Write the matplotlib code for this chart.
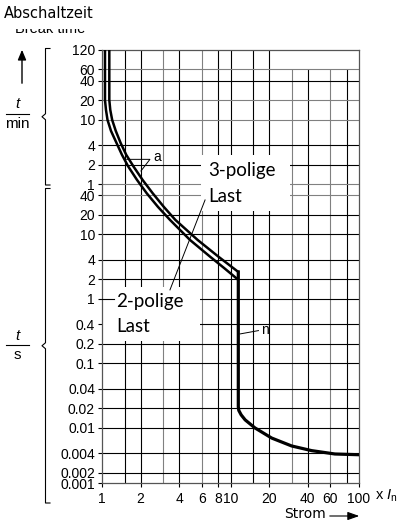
import matplotlib.pyplot as plt
from matplotlib.lines import Line2D
from matplotlib.patches import Rectangle, FancyArrowPatch
from matplotlib.ticker import NullLocator

plt.rcParams['font.family'] = ['Liberation Sans', 'DejaVu Sans']
plt.rcParams['mathtext.fontset'] = 'custom'
plt.rcParams['mathtext.rm'] = 'Liberation Sans'
plt.rcParams['mathtext.it'] = 'Liberation Sans:italic'

NARROW = ['DejaVu Sans Condensed', 'DejaVu Sans']
LABEL = ['Lato', 'DejaVu Sans']

# Ausloesekennlinie (Strom in x In, Zeit in s)
strom_2pol = [1.055, 1.055, 1.074, 1.104, 1.175, 1.301, 1.431, 1.602, 1.873,
              2.228, 2.728, 3.38, 4.84, 6.93, 8.90, 11.5]
zeit_2pol = [7200, 1208, 846, 592, 400, 257, 170, 112, 69.5,
             43.2, 26.5, 16.7, 8.15, 4.49, 3.0, 1.96]

strom_3pol = [1.140, 1.140, 1.160, 1.200, 1.280, 1.400, 1.545, 1.760, 2.07,
              2.48, 3.03, 3.72, 5.55, 8.05, 11.5]
zeit_3pol = [7200, 1208, 846, 592, 400, 257, 170, 112, 69.5,
             43.2, 26.5, 16.7, 8.15, 4.49, 2.60]

# unverzoegerter Bereich
strom_n = [11.5, 11.5, 11.6, 12.1, 13.0, 15.5, 20.9, 29.9, 42.8, 65.0, 100]
zeit_n = [2.60, 0.021, 0.0185, 0.0158, 0.0132, 0.0099, 0.0069, 0.0052,
          0.0044, 0.0039, 0.0038]

zeit_unten = 0.00137
zeit_oben = 7200

y_ticks = [7200, 3600, 2400, 1200, 600, 240, 120, 60,
           40, 20, 10, 4, 2, 1, 0.4, 0.2, 0.1, 0.04, 0.02, 0.01,
           0.004, 0.002, zeit_unten]
y_labels = ['120', '60', '40', '20', '10', '4', '2', '1',
            '40', '20', '10', '4', '2', '1', '0.4', '0.2', '0.1', '0.04',
            '0.02', '0.01', '0.004', '0.002', '0.001']
x_ticks = [1, 2, 4, 6, 8, 10, 20, 40, 60, 100]
x_labels = ['1', '2', '4', '6', '8', '10', '20', '40', '60', '100']

gitter_x = [1.5, 2, 3, 4, 6, 8, 10, 15, 20, 30, 40, 60, 80]
gitter_x_grau = [3, 6, 30, 60]
gitter_x_kurz = [30, 40, 60, 80]
gitter_y = [3600, 2400, 1200, 600, 240, 120, 60, 40, 20, 10, 4, 2, 1,
            0.4, 0.2, 0.1, 0.04, 0.02, 0.01, 0.004, 0.002]
gitter_y_grau = [3600, 1200, 600, 60, 40]

W, H = 403, 527
fig = plt.figure(figsize=(W / 100, H / 100), dpi=100)


def px(x, y):
    return x / W, 1 - y / H


ax = fig.add_axes([102 / W, 1 - 483.3 / H, 257 / W, 433.3 / H])
ax.set_xscale('log')
ax.set_yscale('log')
ax.set_xlim(1, 100)
ax.set_ylim(zeit_unten, zeit_oben)
ax.xaxis.set_minor_locator(NullLocator())
ax.yaxis.set_minor_locator(NullLocator())

for gx in gitter_x:
    farbe = '#808080' if gx in gitter_x_grau else 'black'
    top = 3600 if gx in gitter_x_kurz else zeit_oben
    ax.vlines(gx, zeit_unten, top, color=farbe, lw=0.8, zorder=1)
for gy in gitter_y:
    farbe = '#808080' if gy in gitter_y_grau else 'black'
    ax.hlines(gy, 1, 100, color=farbe, lw=0.8, zorder=1)

# weisse Felder fuer die Beschriftung
ax.add_patch(Rectangle((5.9, 23), 29 - 5.9, 170 - 23, fc='white', ec='none', zorder=2))
ax.add_patch(Rectangle((1.0, 0.22), 5.8 - 1.0, 1.5 - 0.22, fc='white', ec='none', zorder=2))
ax.plot([1, 1.24], [1, 1], color='black', lw=0.8, zorder=3)

ax.plot(strom_2pol, zeit_2pol, color='black', lw=1.8, zorder=4, solid_capstyle='butt')
ax.plot(strom_3pol, zeit_3pol, color='black', lw=1.8, zorder=4, solid_capstyle='butt')
ax.plot(strom_n, zeit_n, color='black', lw=2.3, zorder=4, solid_joinstyle='round')

ax.text(6.68, 99, '3-polige', fontsize=13.5, family=LABEL, va='center', zorder=5)
ax.text(6.68, 39, 'Last', fontsize=13.5, family=LABEL, va='center', zorder=5)
ax.text(1.285, 0.89, '2-polige', fontsize=13.5, family=LABEL, va='center', zorder=5)
ax.text(1.285, 0.365, 'Last', fontsize=13.5, family=LABEL, va='center', zorder=5)
ax.plot([6.34, 3.38], [34, 1.37], color='black', lw=0.7, zorder=5)

ax.plot([1.556, 2.36, 2.01], [145, 145, 95.7], color='black', lw=0.7, zorder=5)
ax.text(2.5, 160, 'a', fontsize=10, va='center', zorder=5)
ax.plot([11.86, 16.5], [0.284, 0.32], color='black', lw=0.7, zorder=5)
ax.text(17.3, 0.33, 'n', fontsize=10, va='center', zorder=5)

for s in ax.spines.values():
    s.set_color('#555555')
    s.set_linewidth(0.9)
ax.set_yticks(y_ticks)
ax.set_yticklabels(y_labels)
ax.set_xticks(x_ticks)
ax.set_xticklabels(x_labels)
ax.tick_params(direction='out', length=3, width=0.8, labelsize=10, pad=2)
ax.tick_params(axis='x', pad=3)

fig.text(*px(375, 496), r'x $I_\mathrm{n}$', fontsize=10.5, va='center')
fig.text(*px(284, 514), 'Strom', fontsize=10, family=NARROW, va='center')
fig.add_artist(FancyArrowPatch(px(327, 516), px(362, 516), transform=fig.transFigure,
                               arrowstyle='-|>,head_length=7,head_width=2.5',
                               color='black', lw=0.8))

# Achsentitel links oben
fig.text(*px(15, 29), 'Break time', fontsize=10.5, va='center')
fig.add_artist(Rectangle(px(0, 29), 110 / W, 29 / H, transform=fig.transFigure,
                         fc='white', ec='none', zorder=5))
fig.text(*px(4, 13), 'Abschaltzeit', fontsize=10.5, family=NARROW, va='center', zorder=6)

fig.add_artist(FancyArrowPatch(px(22, 86), px(22, 47), transform=fig.transFigure,
                               arrowstyle='-|>,head_length=6,head_width=2.5',
                               color='black', lw=1.0))


def bruch(y, unten):
    fig.text(*px(17.5, y - 9), 't', fontsize=11, style='italic', ha='center', va='center')
    fig.add_artist(Line2D([6 / W, 29 / W], [1 - y / H] * 2, color='black', lw=0.8))
    fig.text(*px(17.5, y + 10), unten, fontsize=11, ha='center', va='center')


def klammer(top, bottom):
    mid = (top + bottom) / 2
    xs = [50, 45.5, 45.5, 42, 45.5, 45.5, 50]
    ys = [top, top, mid - 3, mid, mid + 3, bottom, bottom]
    fig.add_artist(Line2D([x / W for x in xs], [1 - y / H for y in ys],
                          color='black', lw=0.8))


bruch(113.5, 'min')
bruch(345, 's')
klammer(48.5, 185)
klammer(188.5, 503)

fig.savefig('out.png', dpi=100)
